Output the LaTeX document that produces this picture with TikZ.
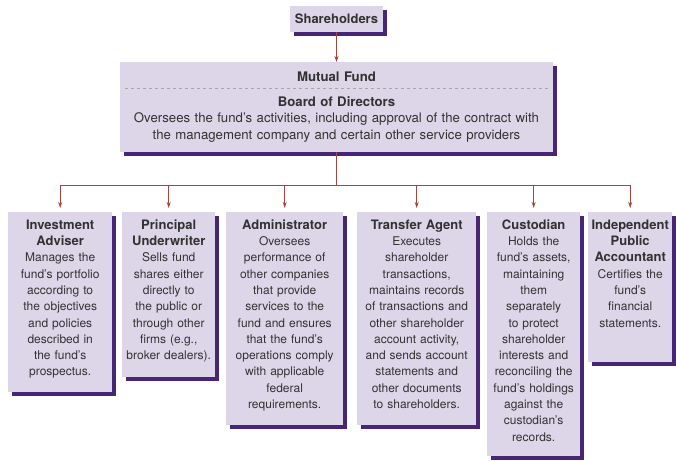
\documentclass[tikz,border=0pt]{standalone}
\usepackage{fontspec}
\setmainfont{TeX Gyre Heros}
\usepackage{tikz}
\usetikzlibrary{shadows, arrows.meta}
\definecolor{cardfill}{RGB}{220,214,232}
\definecolor{cardshade}{RGB}{72,38,118}
\definecolor{wirered}{RGB}{165,70,62}
\definecolor{inkgray}{RGB}{50,50,50}
\tikzset{>={Stealth[width=4pt,length=6pt]}}
\newcommand{\cardtitle}[1]{{\fontsize{13}{16.3}\selectfont\bfseries #1}}

\begin{document}
\begin{tikzpicture}[x=1pt, y=-1pt, card/.style={fill=cardfill, text=inkgray, align=center, anchor=north west, inner xsep=2pt, inner ysep=4pt, text height=13pt, font=\fontsize{12}{16.3}\selectfont, drop shadow={shadow xshift=4pt, shadow yshift=-4pt, fill=cardshade, opacity=1}}, wire/.style={draw=wirered, line width=1pt}, sepline/.style={draw=gray!70, dashed, line width=0.8pt}]
    \useasboundingbox (0,0) rectangle (676,460);

    %Nodes
    \node[card, anchor=north, text width=89pt, text depth=5pt](share) at (336.5,6){\cardtitle{Shareholders}};
    \node[card, anchor=north, text width=429pt, text height=15pt, text depth=67pt, font=\fontsize{13.2}{16.5}\selectfont](mf) at (336.5,62){\textbf{Mutual Fund}\\[8.5pt]\textbf{Board of Directors}\\Oversees the fund's activities, including approval of the contract with\\the management company and certain other service providers};
    \node[card, text width=100pt, text depth=159pt](adv) at (8,212){\cardtitle{Investment}\\\cardtitle{Adviser}\\Manages the\\fund's portfolio\\according to\\the objectives\\and policies\\described in\\the fund's\\prospectus.};
    \node[card, text width=89pt, text depth=144pt](und) at (122,212){\cardtitle{Principal}\\\cardtitle{Underwriter}\\Sells fund\\shares either\\directly to\\the public or\\through other\\firms (e.g.,\\broker dealers).};
    \node[card, text width=113pt, text depth=192pt](adm) at (226,212){\cardtitle{Administrator}\\Oversees\\performance of\\other companies\\that provide\\services to the\\fund and ensures\\that the fund's\\operations comply\\with applicable\\federal\\requirements.};
    \node[card, text width=115pt, text depth=192pt](tra) at (357,212){\cardtitle{Transfer Agent}\\Executes\\shareholder\\transactions,\\maintains records\\of transactions and\\other shareholder\\account activity,\\and sends account\\statements and\\other documents\\to shareholders.};
    \node[card, text width=89pt, text depth=223pt](cus) at (487,212){\cardtitle{Custodian}\\Holds the\\fund's assets,\\maintaining\\them\\separately\\to protect\\shareholder\\interests and\\reconciling the\\fund's holdings\\against the\\custodian's\\records.};
    \node[card, text width=80pt, text depth=129pt](acc) at (588,212){\cardtitle{Independent}\\\cardtitle{Public}\\\cardtitle{Accountant}\\Certifies the\\fund's\\financial\\statements.};
    \coordinate (bus) at (336.5,185);

    %Lines
    \draw[sepline] (125,88) -- (548,88);
    \draw[wire, ->] (share.south) -- (mf.north);
    \draw[wire] (mf.south) -- (bus);
    \draw[wire] (adv.north |- bus) -- (acc.north |- bus);
    \foreach \n in {adv,und,adm,tra,cus,acc}
        \draw[wire, ->, shorten >=4pt] (\n.north |- bus) -- (\n.north);

\end{tikzpicture}
\end{document}
